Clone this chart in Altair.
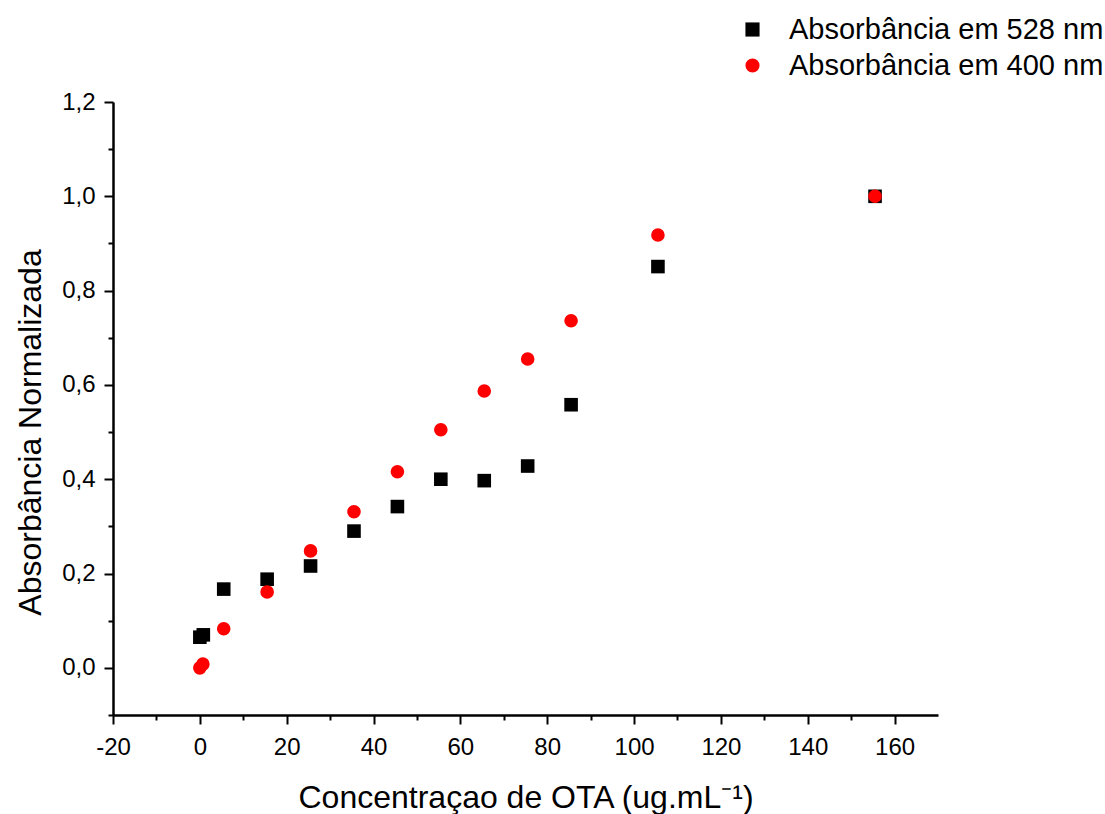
import altair as alt
import pandas as pd

S528 = "Absorbância em 528 nm"
S400 = "Absorbância em 400 nm"

x528 = [0, 0.8, 5.5, 15.5, 25.5, 35.5, 45.5, 55.5, 65.5, 75.5, 85.5, 105.5, 155.5]
y528 = [0.065, 0.07, 0.167, 0.188, 0.216, 0.29, 0.342, 0.40, 0.397, 0.428, 0.558, 0.851, 1.0]

x400 = [0, 0.7, 5.5, 15.5, 25.5, 35.5, 45.5, 55.5, 65.5, 75.5, 85.5, 105.5, 155.5]
y400 = [0.0, 0.008, 0.083, 0.161, 0.248, 0.331, 0.416, 0.505, 0.587, 0.655, 0.736, 0.918, 1.0]

x_major = [-20, 0, 20, 40, 60, 80, 100, 120, 140, 160]
x_minor = [-10, 10, 30, 50, 70, 90, 110, 130, 150]
y_major = [0.0, 0.2, 0.4, 0.6, 0.8, 1.0, 1.2]
y_minor = [-0.1, 0.1, 0.3, 0.5, 0.7, 0.9, 1.1]

df = pd.DataFrame(
    {"series": [S528] * len(x528) + [S400] * len(x400),
     "x": x528 + x400,
     "y": y528 + y400}
)

FONT = "Liberation Sans, Arial, sans-serif"
NARROW = "Liberation Sans Narrow, Arial Narrow, Liberation Sans, sans-serif"
XDOM = [-20, 170]
YDOM = [-0.1, 1.2]

legend = alt.Legend(
    title=None, orient="none", legendX=625, legendY=-87, padding=0,
    labelFont=FONT, labelFontSize=29, labelColor="#000000", labelOffset=22,
    labelLimit=0, rowPadding=6, symbolSize=200, symbolStrokeWidth=0,
    symbolOpacity=1,
)

main = alt.Chart(df).mark_point(filled=True, size=185, opacity=1, strokeWidth=0).encode(
    x=alt.X("x:Q",
            scale=alt.Scale(domain=XDOM, nice=False, zero=False),
            axis=alt.Axis(orient="bottom", values=x_major, title="Concentraçao de OTA (ug.mL⁻¹)",
                          labelExpr="datum.value < 0 ? '-' + abs(datum.value) : '' + datum.value",
                          grid=False, domainColor="#000000", domainWidth=2.5,
                          tickColor="#000000", tickWidth=2, tickSize=9,
                          labelFont=NARROW, labelFontSize=24, labelColor="#000000",
                          labelBaseline="alphabetic", labelPadding=30, labelFlush=False,
                          labelOverlap=False,
                          titleFont=FONT, titleFontSize=32, titleFontWeight="normal",
                          titleColor="#000000", titleBaseline="alphabetic", titleY=92)),
    y=alt.Y("y:Q",
            scale=alt.Scale(domain=YDOM, nice=False, zero=False),
            axis=alt.Axis(orient="left", values=y_major, title="Absorbância Normalizada",
                          labelExpr="replace(format(datum.value, '.1f'), '.', ',')",
                          grid=False, domainColor="#000000", domainWidth=2.5,
                          tickColor="#000000", tickWidth=2, tickSize=9,
                          labelFont=FONT, labelFontSize=24, labelColor="#000000",
                          labelPadding=9, labelFlush=False, labelOverlap=False,
                          titleFont=FONT, titleFontSize=32, titleFontWeight="normal",
                          titleColor="#000000", titleBaseline="alphabetic",
                          titleX=-73, titleY=330)),
    color=alt.Color("series:N",
                    scale=alt.Scale(domain=[S528, S400], range=["#000000", "#ff0000"]),
                    legend=legend),
    shape=alt.Shape("series:N",
                    scale=alt.Scale(domain=[S528, S400], range=["square", "circle"]),
                    legend=legend),
)

minor = alt.Chart(df).mark_point(opacity=0).encode(
    x=alt.X("x:Q", title=None,
            scale=alt.Scale(domain=XDOM, nice=False, zero=False),
            axis=alt.Axis(orient="bottom", values=x_minor, labels=False, domain=False,
                          grid=False, tickColor="#000000", tickWidth=2, tickSize=5)),
    y=alt.Y("y:Q", title=None,
            scale=alt.Scale(domain=YDOM, nice=False, zero=False),
            axis=alt.Axis(orient="left", values=y_minor, labels=False, domain=False,
                          grid=False, tickColor="#000000", tickWidth=2, tickSize=5)),
)

chart = alt.layer(minor, main).resolve_scale(
    x="independent", y="independent"
).properties(
    width=825, height=613,
    autosize=alt.AutoSizeParams(type="none"),
    padding={"left": 113, "top": 102, "right": 167, "bottom": 99},
    background="#ffffff",
).configure_view(stroke=None)

chart.save("out.html", embed_options={"renderer": "svg", "actions": False})
